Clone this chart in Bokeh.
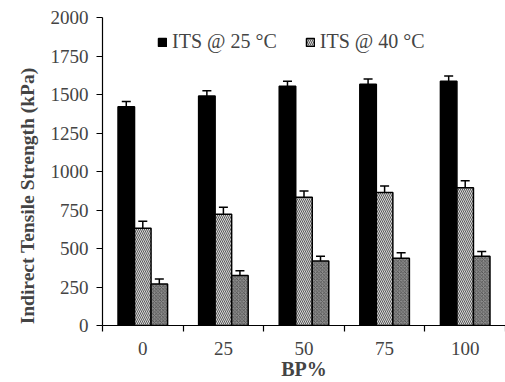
from bokeh.plotting import figure
from bokeh.models import (ColumnDataSource, Whisker, TeeHead, FixedTicker,
                          Legend, LegendItem, Range1d)
from bokeh.embed import file_html
from bokeh.resources import INLINE

# Binder percentage levels (x categories)
bp_levels = ["0", "25", "50", "75", "100"]

# Indirect tensile strength (kPa) with error bars
its_25 = [1420, 1490, 1553, 1566, 1586]
its_25_err = [35, 35, 33, 35, 34]
its_40 = [632, 723, 833, 863, 895]
its_40_err = [45, 45, 41, 43, 45]
its_third = [270, 324, 419, 436, 449]
its_third_err = [32, 32, 30, 36, 32]

y_ticks = [0, 250, 500, 750, 1000, 1250, 1500, 1750, 2000]

FONT = "Liberation Serif"
BAR_W = 0.205
idx = list(range(len(bp_levels)))

p = figure(width=505, height=382, output_backend="svg", toolbar_location=None,
           x_range=Range1d(-0.5, len(bp_levels) - 0.5), y_range=Range1d(0, 2000),
           min_border_left=102, min_border_right=0, min_border_top=17,
           min_border_bottom=56)
p.outline_line_color = None
p.xgrid.visible = False
p.ygrid.visible = False
p.background_fill_color = "white"


def series(values, errs, offset):
    return ColumnDataSource(dict(
        x=[i + offset for i in idx],
        top=values,
        lo=[v - e for v, e in zip(values, errs)],
        hi=[v + e for v, e in zip(values, errs)],
    ))


src25 = series(its_25, its_25_err, -BAR_W)
src40 = series(its_40, its_40_err, 0.0)
src3 = series(its_third, its_third_err, BAR_W)

r25 = p.vbar(x="x", top="top", width=BAR_W, source=src25,
             fill_color="black", line_color="black", line_width=1.5)
r40 = p.vbar(x="x", top="top", width=BAR_W, source=src40,
             fill_color="#d8d8d8", line_color="black", line_width=1.5,
             hatch_pattern="left_diagonal_line", hatch_color="#5a5a5a",
             hatch_scale=4, hatch_weight=1)
r3 = p.vbar(x="x", top="top", width=BAR_W, source=src3,
            fill_color="#8c8c8c", line_color="black", line_width=1.5,
            hatch_pattern="diagonal_cross", hatch_color="#4a4a4a",
            hatch_scale=3.5, hatch_weight=0.8)

# error bars: lower halves on the black bars drawn light so they stay visible
for src, low_color in ((src25, "#9a9a9a"), (src40, "black"), (src3, "black")):
    p.add_layout(Whisker(source=src, base="x", lower="lo", upper="top",
                         line_color=low_color, line_width=1.5,
                         lower_head=TeeHead(size=9, line_color=low_color, line_width=1.5),
                         upper_head=None))
    p.add_layout(Whisker(source=src, base="x", lower="top", upper="hi",
                         line_color="black", line_width=1.5,
                         upper_head=TeeHead(size=9, line_color="black", line_width=1.5),
                         lower_head=None))

# y axis; trailing no-break spaces nudge the title below the frame centre
ya = p.yaxis[0]
ya.ticker = FixedTicker(ticks=y_ticks)
ya.axis_label = "Indirect Tensile Strength (kPa)" + "\u00a0" * 10
ya.axis_label_text_font = FONT
ya.axis_label_text_font_size = "19.5px"
ya.axis_label_text_font_style = "bold"
ya.axis_label_standoff = 10
ya.major_label_text_font = FONT
ya.major_label_text_font_size = "19px"
ya.major_label_standoff = 8
ya.major_tick_out = 6
ya.major_tick_in = 0
ya.minor_tick_out = 0
ya.minor_tick_in = 0
ya.axis_line_width = 1.2
ya.major_tick_line_width = 1.2

# x axis: labels at group centres, ticks at group boundaries
xa = p.xaxis[0]
xa.ticker = FixedTicker(ticks=idx, minor_ticks=[i - 0.5 for i in range(len(bp_levels) + 1)])
xa.major_label_overrides = {i: lab for i, lab in zip(idx, bp_levels)}
xa.axis_label = "BP%"
xa.axis_label_text_font = FONT
xa.axis_label_text_font_size = "20px"
xa.axis_label_text_font_style = "bold"
xa.axis_label_standoff = 0
xa.major_label_text_font = FONT
xa.major_label_text_font_size = "19px"
xa.major_label_standoff = 10
xa.major_tick_out = 0
xa.major_tick_in = 0
xa.minor_tick_out = 6
xa.minor_tick_in = 0
xa.axis_line_width = 1.2
xa.minor_tick_line_width = 1.2

legend = Legend(items=[LegendItem(label="ITS @ 25 °C", renderers=[r25]),
                       LegendItem(label="ITS @ 40 °C", renderers=[r40])],
                orientation="horizontal", location=(55, 272),
                label_text_font=FONT, label_text_font_size="20px",
                glyph_width=10, glyph_height=10, label_standoff=5,
                spacing=28, padding=0, margin=0,
                border_line_color=None, background_fill_alpha=0)
p.add_layout(legend)

open("out.html", "w").write(file_html(p, INLINE))
